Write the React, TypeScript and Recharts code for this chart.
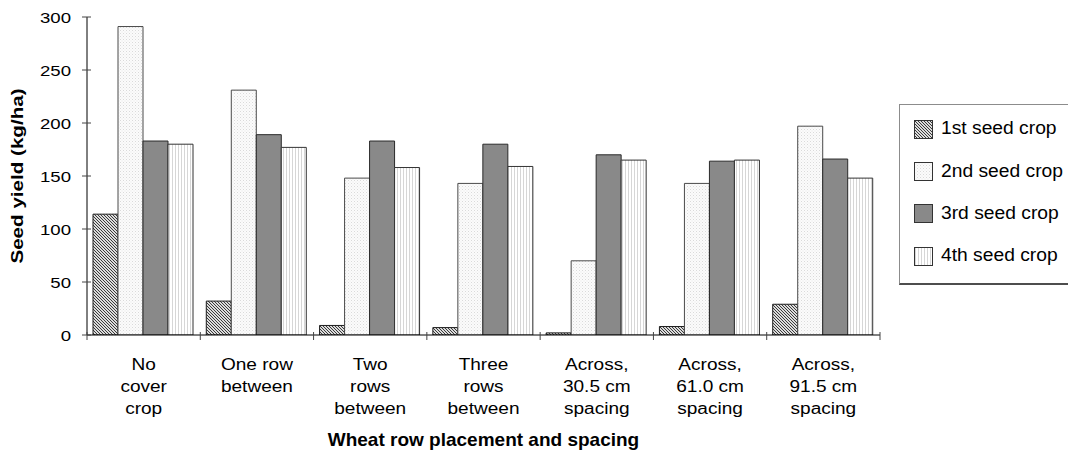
import React from 'react';
import { BarChart, Bar, XAxis, YAxis, Legend } from 'recharts';

const FONT = '"Liberation Sans", Arial, Helvetica, sans-serif';

const categories = [
  'No\ncover\ncrop',
  'One row\nbetween',
  'Two\nrows\nbetween',
  'Three\nrows\nbetween',
  'Across,\n30.5 cm\nspacing',
  'Across,\n61.0 cm\nspacing',
  'Across,\n91.5 cm\nspacing',
];
const seriesNames = ['1st seed crop', '2nd seed crop', '3rd seed crop', '4th seed crop'];
const crop1 = [114, 32, 9, 7, 2, 8, 29];
const crop2 = [291, 231, 148, 143, 70, 143, 197];
const crop3 = [183, 189, 183, 180, 170, 164, 166];
const crop4 = [180, 177, 158, 159, 165, 165, 148];
const yTicks = [0, 50, 100, 150, 200, 250, 300];
const xTitle = 'Wheat row placement and spacing';
const yTitle = 'Seed yield (kg/ha)';

const seriesValues = [crop1, crop2, crop3, crop4];
const seriesKeys = ['s1', 's2', 's3', 's4'];
const fills = ['url(#pat1)', 'url(#pat2)', '#898989', 'url(#pat4)'];
const strokes = ['#1e1e1e', '#4a4a4a', '#2a2a2a', '#333333'];

const data = categories.map((c, i) => {
  const row: Record<string, any> = { category: c };
  seriesKeys.forEach((k, j) => {
    row[k] = seriesValues[j][i];
  });
  return row;
});

const CategoryTick = (props: any) => {
  const { x, y, payload, index, visibleTicksCount } = props;
  const lines = String(payload.value).split('\n');
  const half = payload.offset || 0;
  return (
    <g>
      <line x1={x - half} x2={x - half} y1={y - 3} y2={y + 5} stroke="#444" />
      {index === visibleTicksCount - 1 && (
        <line x1={x + half} x2={x + half} y1={y - 3} y2={y + 5} stroke="#444" />
      )}
      <text
        transform={`translate(${x},${y}) scale(1.19,1)`}
        textAnchor="middle"
        fontFamily={FONT}
        fontSize={16}
        fill="#000"
      >
        {lines.map((l, i) => (
          <tspan key={i} x={0} y={35 + 22 * i}>
            {l}
          </tspan>
        ))}
      </text>
    </g>
  );
};

const YTick = (props: any) => {
  const { x, y, payload } = props;
  return (
    <g>
      <line x1={x + 11} x2={x + 20} y1={y} y2={y} stroke="#444" />
      <text
        transform={`translate(${x},${y}) scale(1.2,1)`}
        textAnchor="end"
        dy="0.36em"
        fontFamily={FONT}
        fontSize={15.5}
        fill="#000"
      >
        {payload.value}
      </text>
    </g>
  );
};

const YTitle = (props: any) => {
  const vb = props.viewBox || { x: 0, y: 17, width: 87, height: 318 };
  const cx = vb.x + 19;
  const cy = vb.y + vb.height / 2;
  return (
    <text
      transform={`translate(${cx},${cy}) rotate(-90) scale(1.25,1)`}
      textAnchor="middle"
      dy="0.26em"
      fontFamily={FONT}
      fontWeight="bold"
      fontSize={16.5}
      fill="#000"
    >
      {yTitle}
    </text>
  );
};

const XTitle = (props: any) => {
  const vb = props.viewBox || { x: 87, y: 335, width: 793, height: 118 };
  return (
    <text
      x={vb.x + vb.width / 2}
      y={vb.y + 111}
      textAnchor="middle"
      fontFamily={FONT}
      fontWeight="bold"
      fontSize={19}
      fill="#000"
    >
      {xTitle}
    </text>
  );
};

const LegendBox = (props: any) => {
  const payload = props.payload || [];
  return (
    <div
      style={{
        boxSizing: 'border-box',
        width: 169,
        height: 181,
        border: '1px solid #8c8c8c',
        borderRight: 'none',
        borderBottom: '2px solid #4d4d4d',
        background: '#fff',
        paddingTop: 3,
        paddingLeft: 14,
        fontFamily: FONT,
      }}
    >
      {payload.map((e: any, i: number) => (
        <div key={i} style={{ height: 42.3, display: 'flex', alignItems: 'center' }}>
          <svg width={19} height={19} style={{ display: 'block', flex: 'none' }}>
            <rect x={0.5} y={0.5} width={18} height={18} fill={fills[i]} stroke="#333" />
          </svg>
          <span
            style={{
              marginLeft: 8,
              fontSize: 17.5,
              display: 'inline-block',
              transform: 'scaleX(1.1)',
              transformOrigin: 'left center',
              whiteSpace: 'nowrap',
              lineHeight: 1,
              color: '#000',
            }}
          >
            {e.value}
          </span>
        </div>
      ))}
    </div>
  );
};

export default function App() {
  return (
    <div style={{ position: 'absolute', left: 0, top: 0, width: 1068, height: 453, background: '#fff' }}>
      <BarChart
        width={1068}
        height={453}
        data={data}
        margin={{ top: 17, right: 188, left: 0, bottom: 0 }}
        barCategoryGap={6}
        barGap={0}
      >
        <defs>
          <pattern id="pat1" width="3" height="3" patternUnits="userSpaceOnUse">
            <rect width="3" height="3" fill="#dcdcdc" />
            <path d="M-1,-1 L4,4 M-1,2 L1,4 M2,-1 L4,1" stroke="#3a3a3a" strokeWidth={1} />
          </pattern>
          <pattern id="pat2" width="3" height="3" patternUnits="userSpaceOnUse">
            <rect width="3" height="3" fill="#fbfbfb" />
            <rect x="0" y="0" width="1" height="1" fill="#dadada" />
            <rect x="1.5" y="1.5" width="1" height="1" fill="#e8e8e8" />
          </pattern>
          <pattern id="pat4" width="3" height="3" patternUnits="userSpaceOnUse">
            <rect width="3" height="3" fill="#ffffff" />
            <rect x="1" y="0" width="1" height="3" fill="#d6d6d6" />
          </pattern>
        </defs>
        <XAxis
          dataKey="category"
          height={118}
          axisLine={{ stroke: '#000' }}
          tickLine={false}
          tickSize={0}
          tickMargin={0}
          interval={0}
          tick={<CategoryTick />}
          label={{ content: <XTitle /> }}
        />
        <YAxis
          width={87}
          domain={[0, 300]}
          ticks={yTicks}
          interval={0}
          allowDataOverflow
          axisLine={{ stroke: '#000' }}
          tickLine={false}
          tickSize={5}
          tickMargin={11}
          tick={<YTick />}
          label={{ content: <YTitle /> }}
        />
        <Legend
          layout="vertical"
          align="center"
          verticalAlign="middle"
          wrapperStyle={{ left: 899, top: 104, width: 169, height: 181 }}
          content={<LegendBox />}
        />
        {seriesKeys.map((k, i) => (
          <Bar
            key={k}
            dataKey={k}
            name={seriesNames[i]}
            fill={fills[i]}
            stroke={strokes[i]}
            strokeWidth={1}
            isAnimationActive={false}
          />
        ))}
      </BarChart>
    </div>
  );
}
